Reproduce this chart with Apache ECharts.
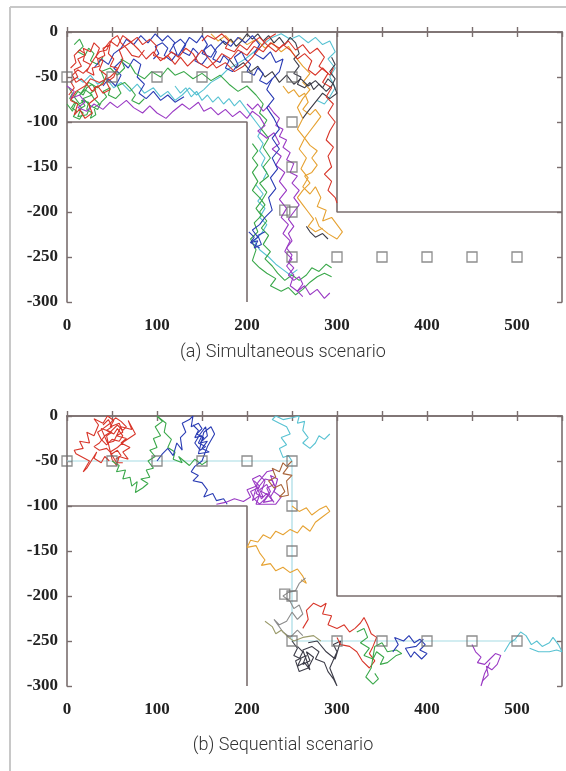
<!DOCTYPE html>
<html>
<head>
<meta charset="utf-8">
<script src="https://cdn.jsdelivr.net/npm/echarts@6/dist/echarts.min.js"></script>
<style>
  html, body { margin: 0; padding: 0; background: #ffffff; }
  #chart { width: 566px; height: 771px; }
</style>
</head>
<body>
<div id="chart"></div>
<script>
// ---- axis ranges and ticks ----
const xRange = [0, 550];
const yRange = [-300, 0];
const tickStep = 50;
const captions = ['(a) Simultaneous scenario', '(b) Sequential scenario'];

// ---- environment: walls and waypoints ----
const wallLower = [[0, -100], [200, -100], [200, -300]];
const wallUpper = [[300, 0], [300, -200], [550, -200]];
const waypoints = [[0, -50], [50, -50], [100, -50], [150, -50], [200, -50], [250, -50],
  [250, -100], [250, -150], [242, -198], [250, -200], [250, -250], [300, -250],
  [350, -250], [400, -250], [450, -250], [500, -250]];
const plannedPath = [[0, -50], [250, -50], [250, -250], [500, -250]];

// ---- (a) simultaneous: robot trajectories ----
const simRed = [[2,-70],[8,-62],[4,-55],[12,-50],[8,-42],[16,-38],[12,-30],[20,-26],[18,-18],[26,-22],[30,-12],[36,-18],[32,-28],[40,-32],[36,-42],[44,-48],[40,-58],[30,-62],[34,-72],[24,-80],[28,-90],[20,-96],[14,-86],[8,-92],[12,-80],[4,-76],[10,-66],[20,-60],[26,-52],[36,-56],[48,-50],[56,-42],[62,-30],[58,-20],[70,-12],[78,-6],[84,-14],[92,-8],[100,-16],[96,-26],[108,-30],[116,-22],[124,-28],[132,-18],[140,-24],[146,-34],[156,-40],[166,-32],[172,-24],[182,-30],[190,-20],[200,-26],[208,-16],[218,-22],[226,-12],[236,-18],[246,-10],[254,-20],[262,-14],[270,-24],[278,-18],[286,-28],[280,-38],[290,-46],[284,-56],[294,-62],[288,-72],[296,-80],[290,-90],[298,-100],[292,-110],[288,-120],[296,-128],[290,-138],[294,-150],[286,-158],[294,-166],[290,-176],[298,-184],[300,-190]];
const simRed2 = [[40,-20],[48,-10],[56,-16],[62,-4],[70,-10],[80,-20],[88,-30],[96,-22],[104,-32],[112,-26],[120,-36],[126,-28],[134,-38],[142,-30],[150,-20],[158,-30],[166,-40],[176,-34],[186,-44],[196,-38],[206,-28],[214,-18],[222,-8],[232,-2]];
const simRed3 = [[4,-40],[10,-34],[8,-26],[14,-20],[20,-24],[18,-32],[26,-36],[22,-44],[30,-48],[28,-40],[36,-38],[34,-30],[42,-26],[40,-18],[48,-14],[46,-24],[52,-30],[48,-38],[56,-40],[52,-50],[44,-56],[48,-64],[40,-68],[34,-60],[28,-66],[22,-58],[16,-52],[10,-56],[6,-48],[12,-42],[18,-46],[24,-40],[30,-30],[36,-22],[44,-20],[50,-8],[56,-4],[60,-12],[66,-18],[72,-26],[80,-28],[86,-20]];
const simRed4 = [[150,-10],[156,-4],[164,-8],[172,-2],[180,-10],[176,-18],[186,-22],[192,-14],[200,-20],[206,-12],[214,-6],[222,-14],[232,-22],[240,-14],[248,-20],[256,-30],[264,-24],[272,-32],[268,-42],[276,-48],[284,-40],[292,-48],[296,-40]];
const simGreen = [[0,-80],[6,-88],[10,-78],[16,-84],[12,-94],[22,-92],[26,-82],[18,-74],[28,-70],[20,-64],[14,-70],[24,-56],[34,-62],[42,-54],[38,-44],[48,-40],[56,-48],[64,-40],[60,-30],[70,-36],[76,-46],[86,-52],[94,-44],[104,-50],[112,-40],[120,-48],[130,-44],[140,-52],[150,-46],[160,-54],[170,-48],[180,-58],[190,-66],[200,-60],[210,-70],[218,-80],[214,-90],[222,-98],[216,-108],[224,-118],[218,-128],[226,-140],[218,-150],[224,-160],[214,-168],[222,-178],[216,-188],[210,-196],[216,-204],[208,-212],[212,-222],[204,-230],[210,-242],[206,-254],[214,-262],[222,-268],[232,-274],[226,-282],[238,-288],[246,-284],[254,-292],[262,-286],[270,-278],[278,-272],[286,-268],[294,-272]];
const simGreen2 = [[2,-62],[6,-68],[3,-74],[9,-78],[5,-84],[11,-88],[7,-94],[14,-97],[18,-90],[13,-86],[20,-82],[16,-76],[24,-78],[22,-86],[28,-90],[26,-96],[32,-92],[30,-84],[36,-80],[30,-74],[26,-68],[32,-64],[28,-58],[22,-62],[18,-70],[12,-66],[8,-72],[14,-80],[20,-76],[26,-82],[34,-86],[38,-78],[44,-72],[40,-66],[48,-62],[46,-70],[54,-74],[60,-68],[56,-60],[64,-56],[70,-62],[76,-70],[72,-76],[80,-80],[86,-74]];
const simGreen3 = [[206,-124],[212,-132],[206,-140],[212,-148],[206,-156],[212,-166],[206,-176],[214,-184],[220,-192],[214,-200],[222,-210],[216,-218],[224,-226],[218,-236],[226,-244],[220,-252],[228,-260],[234,-268],[242,-276],[250,-270],[258,-276],[266,-270],[272,-262],[280,-266],[288,-258],[294,-262]];
const simGreen4 = [[8,-14],[14,-8],[18,-16],[12,-22],[20,-26],[24,-18],[30,-24],[26,-32],[34,-36],[40,-28]];
const simBlue = [[30,-40],[38,-30],[46,-36],[52,-24],[60,-18],[66,-8],[74,-14],[82,-4],[90,-12],[98,-2],[106,-10],[112,-4],[120,-12],[114,-22],[124,-26],[130,-16],[136,-6],[144,-12],[150,-4],[156,-14],[150,-24],[160,-28],[166,-18],[174,-10],[182,-16],[190,-6],[198,-12],[206,-4],[214,-14],[208,-24],[218,-30],[226,-22],[232,-34],[240,-30],[236,-44],[228,-52],[222,-64],[230,-74],[222,-84],[230,-96],[236,-108],[228,-118],[236,-130],[228,-140],[234,-152],[226,-162],[232,-174],[224,-184],[228,-198],[220,-206],[214,-214],[206,-220],[212,-228],[204,-234],[214,-240]];
const simBlue2 = [[40,-60],[46,-52],[54,-60],[60,-48],[52,-40],[60,-32],[68,-40],[74,-30],[82,-36],[78,-50],[86,-58],[80,-68],[88,-74],[96,-66],[104,-76],[112,-70],[120,-78],[130,-72]];
const simBlue3 = [[96,-30],[102,-24],[98,-16],[106,-12],[112,-18],[108,-26],[116,-32],[122,-24],[118,-14],[126,-8],[132,-14],[128,-22],[136,-26],[140,-18],[146,-24],[142,-32],[150,-36],[156,-28],[152,-20],[160,-14],[166,-22],[162,-30],[170,-34],[174,-26],[180,-32],[176,-40],[184,-44],[190,-36],[186,-28],[194,-22],[198,-30],[204,-36],[200,-44],[208,-48],[212,-40],[218,-46],[214,-54],[222,-58],[228,-52]];
const simBlue4 = [[202,-222],[208,-228],[204,-234],[212,-232],[208,-240],[216,-236],[212,-226],[220,-222]];
const simPurple = [[0,-60],[8,-66],[4,-74],[14,-70],[20,-78],[12,-84],[22,-88],[30,-80],[40,-86],[48,-78],[56,-84],[66,-76],[74,-84],[84,-90],[92,-82],[100,-90],[110,-96],[118,-88],[128,-80],[136,-86],[146,-78],[152,-88],[160,-84],[168,-92],[176,-86],[184,-94],[192,-88],[200,-96],[206,-88],[214,-94],[220,-104],[212,-110],[222,-118],[230,-112],[236,-124],[228,-130],[238,-138],[232,-148],[242,-156],[236,-166],[244,-176],[236,-186],[244,-196],[238,-206],[246,-214],[240,-224],[248,-232],[242,-244],[250,-252],[244,-260],[252,-270],[248,-282],[256,-288],[264,-282],[270,-292],[278,-286],[286,-296],[292,-290]];
const simPurple2 = [[200,-80],[206,-86],[212,-80],[218,-88],[224,-82],[230,-90],[236,-96],[232,-104],[240,-108],[236,-116],[244,-120],[240,-128],[248,-134],[244,-142],[252,-146],[248,-156],[256,-160],[250,-168],[258,-176],[252,-184],[258,-192],[252,-200],[246,-208],[252,-216],[246,-224],[250,-232],[244,-240],[250,-248],[246,-256],[252,-262],[246,-270],[252,-276],[258,-272],[262,-280],[256,-288],[262,-294]];
const simCyan = [[10,-50],[18,-56],[26,-48],[34,-58],[44,-52],[52,-62],[60,-56],[70,-66],[78,-58],[86,-68],[96,-62],[104,-72],[112,-66],[120,-76],[128,-70],[136,-62],[144,-70],[152,-64],[160,-56],[170,-50],[178,-42],[188,-36],[198,-30],[208,-22],[218,-14],[228,-6],[238,-2],[248,-8],[258,-4],[268,-12],[276,-6],[284,-14],[292,-10],[298,-22],[290,-30],[298,-40],[292,-50],[298,-62],[292,-72],[286,-80],[278,-76]];
const simCyan2 = [[210,-170],[218,-180],[212,-188],[220,-196],[214,-206],[222,-214],[216,-224],[208,-232],[214,-242],[224,-250],[232,-258],[240,-264],[248,-270],[256,-264]];
const simCyan3 = [[120,-60],[126,-68],[132,-62],[138,-72],[144,-66],[150,-76],[156,-70],[162,-78],[168,-72],[174,-80],[180,-74],[186,-82],[192,-76],[198,-84],[204,-92],[210,-100],[216,-108],[212,-116],[218,-124],[214,-132],[220,-140],[216,-148],[222,-156],[218,-164]];
const simOrange = [[160,-2],[168,-10],[176,-4],[184,-12],[192,-6],[200,-14],[210,-8],[220,-18],[228,-12],[238,-22],[246,-16],[254,-28],[262,-38],[270,-46],[262,-56],[270,-64],[262,-74],[256,-84],[262,-96],[256,-108],[264,-118],[258,-130],[266,-140],[260,-152],[268,-162],[262,-172],[270,-180],[276,-172],[282,-184],[278,-194],[288,-198],[284,-210],[294,-206],[300,-214],[306,-222],[300,-230],[290,-224],[280,-216],[276,-206]];
const simOrange2 = [[240,-60],[246,-68],[252,-64],[258,-72],[264,-68],[268,-78],[262,-86],[270,-92],[276,-86],[282,-94],[276,-102],[270,-110],[264,-118],[270,-126],[278,-132],[272,-140],[278,-148],[272,-156],[264,-160],[270,-168],[262,-176],[256,-184],[262,-192],[268,-200],[274,-208],[268,-216],[276,-222],[284,-218]];
const simDark = [[180,-30],[188,-40],[196,-34],[204,-44],[212,-38],[220,-50],[228,-44],[236,-56],[244,-48],[252,-58],[260,-52],[268,-60],[276,-54],[284,-62],[290,-52],[296,-58],[300,-68],[292,-74],[284,-68],[276,-78],[268,-88],[262,-96]];
const simDark2 = [[266,-216],[270,-222],[276,-228],[284,-224],[290,-230]];
const simDark3 = [[170,-8],[176,-14],[182,-8],[188,-16],[194,-10],[200,-2],[206,-8],[212,-2],[218,-10],[224,-4],[230,-12],[236,-6],[242,-14],[248,-6],[254,-12],[258,-24],[252,-30],[258,-38],[252,-46],[260,-50],[256,-58],[264,-62],[270,-56],[274,-64],[280,-58],[288,-66],[294,-60],[298,-52],[292,-44],[298,-36],[294,-28]];

// ---- (b) sequential: robot trajectories ----
const seqRed = [[47,-50],[42,-45],[38,-52],[30,-47],[33,-40],[22,-58],[18,-62],[25,-50],[10,-42],[8,-38],[18,-36],[14,-28],[25,-30],[22,-18],[30,-22],[35,-10],[30,-3],[40,-8],[45,0],[52,-5],[48,-12],[58,-8],[62,-18],[55,-22],[66,-25],[60,-30],[70,-35],[62,-40],[68,-48],[58,-45],[55,-55],[50,-48],[44,-22],[50,-18],[38,-14],[45,-30],[52,-28],[60,-12],[72,-15],[68,-5],[76,-20],[64,-28],[56,-35],[48,-40],[55,-52],[62,-52]];
const seqRedDense = [[40,-10],[46,-4],[50,-12],[44,-16],[52,-20],[56,-14],[62,-22],[58,-28],[50,-26],[44,-32],[38,-26],[34,-18],[40,-14],[48,-8],[54,-2],[60,-6],[66,-12],[62,-16],[56,-10],[48,-18],[42,-22],[36,-30],[30,-34],[36,-38],[44,-36],[50,-42],[56,-38],[60,-44],[54,-48]];
const seqGreen = [[50,-50],[58,-55],[55,-62],[65,-60],[62,-70],[70,-68],[72,-78],[78,-73],[76,-85],[84,-80],[90,-75],[82,-70],[92,-68],[88,-60],[96,-58],[90,-50],[98,-45],[92,-38],[100,-35],[96,-25],[104,-22],[98,-12],[106,-6],[100,0],[110,-8],[108,-18],[116,-26],[112,-35],[120,-40],[118,-48],[128,-52],[124,-45],[136,-55],[142,-48],[150,-54],[156,-50]];
const seqBlue = [[100,-50],[106,-42],[112,-36],[118,-44],[122,-30],[128,-38],[126,-24],[132,-18],[128,-8],[136,-4],[140,0],[138,-12],[146,-8],[150,-14],[144,-20],[152,-24],[148,-30],[156,-28],[150,-36],[158,-40],[146,-42],[152,-18],[160,-12],[164,-20],[156,-34],[150,-50],[142,-56],[138,-62],[146,-66],[140,-72],[150,-74],[156,-82],[152,-90],[162,-86],[166,-94],[174,-92],[178,-98]];
const seqBlueDense = [[140,-10],[146,-16],[142,-24],[150,-22],[146,-30],[154,-34],[148,-38],[142,-30],[148,-20],[154,-12],[156,-22],[150,-28]];
const seqPurple = [[166,-98],[176,-96],[186,-92],[196,-95],[204,-90],[200,-82],[210,-78],[206,-70],[214,-66],[220,-72],[216,-84],[224,-88],[218,-96],[228,-94],[222,-80],[230,-76],[226,-66],[234,-70],[230,-84],[238,-90],[232,-98],[210,-98],[214,-88],[206,-94],[212,-74],[222,-62],[230,-60]];
const seqPurpleDense = [[208,-72],[214,-78],[210,-86],[218,-90],[214,-82],[222,-76],[226,-84],[220,-92],[214,-98],[208,-92],[204,-84],[212,-80],[220,-70],[228,-72],[232,-80],[226,-90],[230,-96],[222,-86],[216,-92],[210,-76]];
const seqBrown = [[250,-50],[244,-56],[240,-52],[236,-62],[228,-58],[232,-68],[224,-72],[230,-80],[238,-76],[242,-84],[236,-90],[246,-88],[244,-72],[250,-66],[240,-64],[246,-56]];
const seqCyan = [[250,-50],[246,-44],[240,-46],[236,-36],[244,-32],[238,-24],[248,-20],[244,-12],[236,-8],[228,-4],[232,0],[240,-4],[250,-2],[258,0],[256,-8],[264,-6],[262,-16],[268,-24],[262,-30],[270,-36],[276,-30],[280,-22],[286,-26],[292,-20]];
const seqOrange = [[250,-100],[258,-106],[266,-102],[272,-110],[280,-104],[288,-100],[292,-106],[284,-112],[276,-118],[270,-128],[262,-122],[256,-130],[248,-126],[240,-132],[232,-128],[226,-136],[218,-132],[212,-140],[204,-138],[200,-146],[210,-144],[214,-152],[220,-160],[216,-166],[226,-164],[232,-172],[240,-168],[248,-174],[256,-170],[262,-178],[266,-186],[260,-182]];
const seqGray = [[265,-180],[258,-186],[254,-194],[246,-196],[240,-200],[248,-206],[252,-214],[258,-210],[262,-220],[256,-226],[250,-218],[244,-228],[236,-232],[230,-226],[240,-240],[248,-246],[256,-238],[262,-244]];
const seqOlive = [[220,-228],[228,-234],[232,-242],[238,-238],[246,-246],[252,-250],[262,-246],[274,-244],[282,-250]];
const seqDark = [[250,-250],[256,-258],[252,-266],[260,-270],[256,-278],[264,-274],[270,-282],[262,-260],[272,-256],[280,-262],[276,-270],[286,-274],[290,-284],[296,-292],[300,-300],[292,-280],[300,-262],[296,-254],[304,-250],[298,-270],[288,-262],[278,-250],[268,-252]];
const seqDarkDense = [[256,-256],[262,-262],[258,-270],[266,-266],[262,-276],[270,-272],[266,-262],[274,-268],[268,-280],[258,-284],[254,-272],[262,-268]];
const seqRed2 = [[262,-236],[268,-226],[266,-216],[274,-208],[282,-212],[288,-208],[284,-220],[294,-222],[290,-232],[300,-236],[308,-232],[314,-240],[320,-236],[326,-230],[330,-224],[334,-232],[338,-242],[344,-246],[340,-256],[336,-264],[342,-272],[336,-280],[328,-272],[322,-262],[314,-256],[304,-254],[300,-246]];
const seqGreen2 = [[322,-240],[330,-236],[334,-246],[326,-252],[336,-258],[330,-266],[340,-270],[344,-262],[352,-268],[348,-276],[356,-274],[366,-266],[372,-264],[366,-260],[356,-262],[350,-252],[342,-256],[338,-280],[332,-290],[340,-298],[346,-292],[342,-286]];
const seqBlue2 = [[362,-262],[368,-254],[364,-246],[374,-250],[380,-244],[386,-252],[392,-248],[398,-254],[392,-260],[400,-264],[394,-270],[386,-262],[382,-268],[376,-258],[388,-256],[396,-248]];
const seqPurple2 = [[450,-254],[454,-262],[460,-268],[456,-274],[464,-276],[470,-270],[476,-264],[482,-266],[478,-276],[472,-282],[466,-278],[468,-288],[462,-294],[460,-300],[464,-286],[470,-274]];
const seqCyan2 = [[486,-262],[492,-252],[498,-248],[504,-240],[510,-244],[516,-254],[522,-250],[528,-256],[536,-252],[540,-246],[546,-254],[550,-262],[544,-260],[536,-262],[524,-262],[514,-258]];

// ---- colours ----
const C = {
  red: '#d8362a', green: '#3aa84a', blue: '#2a3cb4', purple: '#9a3ac4',
  cyan: '#58c2d2', orange: '#e6a232', dark: '#3c3c48', gray: '#8c8c8c',
  brown: '#a8643a', olive: '#9a9a6a'
};
const axisColor = '#7a6e6e';

const simTracks = [
  [simCyan, C.cyan], [simCyan2, C.cyan], [simCyan3, C.cyan], [simBlue2, C.blue],
  [simGreen, C.green], [simGreen2, C.green], [simGreen3, C.green], [simGreen4, C.green],
  [simOrange, C.orange], [simOrange2, C.orange], [simPurple, C.purple], [simPurple2, C.purple],
  [simDark, C.dark], [simDark2, C.dark], [simDark3, C.dark],
  [simBlue, C.blue], [simBlue3, C.blue], [simBlue4, C.blue],
  [simRed2, C.red], [simRed3, C.red], [simRed4, C.red], [simRed, C.red]
];
const seqTracks = [
  [seqRed, C.red], [seqRedDense, C.red], [seqGreen, C.green], [seqBlue, C.blue],
  [seqBlueDense, C.blue], [seqPurple, C.purple], [seqPurpleDense, C.purple],
  [seqBrown, C.brown], [seqCyan, C.cyan], [seqOrange, C.orange], [seqGray, C.gray],
  [seqOlive, C.olive], [seqDark, C.dark], [seqDarkDense, C.dark], [seqRed2, C.red],
  [seqGreen2, C.green], [seqBlue2, C.blue], [seqPurple2, C.purple], [seqCyan2, C.cyan]
];

const labelFont = { fontFamily: 'Liberation Serif', fontWeight: 'bold', fontSize: 17, color: '#222' };

function xAxes(gridIndex) {
  const base = {
    type: 'value', gridIndex, min: xRange[0], max: xRange[1], interval: tickStep,
    splitLine: { show: false },
    axisLine: { show: true, lineStyle: { color: axisColor, width: 1.6 } },
    axisTick: { show: true, inside: true, length: 5, lineStyle: { color: axisColor, width: 1.4 } }
  };
  return [
    Object.assign({}, base, {
      position: 'bottom',
      axisLabel: Object.assign({ margin: 15, showMaxLabel: false,
        formatter: v => (v % 100 === 0 ? String(v) : '') }, labelFont)
    }),
    Object.assign({}, base, { position: 'top', axisLabel: { show: false } })
  ];
}
function yAxes(gridIndex) {
  const base = {
    type: 'value', gridIndex, min: yRange[0], max: yRange[1], interval: tickStep,
    splitLine: { show: false },
    axisLine: { show: true, onZero: false, lineStyle: { color: axisColor, width: 1.6 } },
    axisTick: { show: true, inside: true, length: 5, lineStyle: { color: axisColor, width: 1.4 } }
  };
  return [
    Object.assign({}, base, { position: 'left', axisLabel: Object.assign({ margin: 9 }, labelFont) }),
    Object.assign({}, base, { position: 'right', axisLabel: { show: false } })
  ];
}

function lineSeries(data, color, axisIdx, width, z) {
  return {
    type: 'line', data, xAxisIndex: axisIdx, yAxisIndex: axisIdx,
    showSymbol: false, symbol: 'none', silent: true, animation: false,
    lineStyle: { color, width }, z
  };
}

const series = [];
[0, 1].forEach(p => {
  const ax = p * 2;
  series.push(lineSeries(wallLower, axisColor, ax, 1.6, 2));
  series.push(lineSeries(wallUpper, axisColor, ax, 1.6, 2));
  if (p === 1) series.push(lineSeries(plannedPath, '#a6dbe4', ax, 1.2, 2));
  (p === 0 ? simTracks : seqTracks).forEach(([d, c]) => series.push(lineSeries(d, c, ax, 1.1, 3)));
  series.push({
    type: 'scatter', data: waypoints, xAxisIndex: ax, yAxisIndex: ax,
    symbol: 'rect', symbolSize: 10, silent: true, animation: false, z: 5,
    itemStyle: { color: 'rgba(255,255,255,0)', borderColor: '#707070', borderWidth: 1.3 }
  });
});

const chart = echarts.init(document.getElementById('chart'), null, { renderer: 'canvas' });
chart.setOption({
  backgroundColor: '#ffffff',
  animation: false,
  grid: [
    { left: 67, top: 32, width: 495, height: 270 },
    { left: 67, top: 416, width: 495, height: 270 }
  ],
  xAxis: [...xAxes(0), ...xAxes(1)],
  yAxis: [...yAxes(0), ...yAxes(1)],
  series,
  graphic: [
    { type: 'line', shape: { x1: 10, y1: 7, x2: 566, y2: 7 }, style: { stroke: '#c8c8c8', lineWidth: 2 } },
    { type: 'line', shape: { x1: 10, y1: 7, x2: 10, y2: 771 }, style: { stroke: '#c8c8c8', lineWidth: 2 } },
    { type: 'text', x: 283, y: 352, style: { text: captions[0], fontFamily: 'Roboto', fontWeight: 300, fontSize: 18, fill: '#333', textAlign: 'center', textVerticalAlign: 'middle' } },
    { type: 'text', x: 283, y: 745, style: { text: captions[1], fontFamily: 'Roboto', fontWeight: 300, fontSize: 18, fill: '#333', textAlign: 'center', textVerticalAlign: 'middle' } }
  ]
});
</script>
</body>
</html>
